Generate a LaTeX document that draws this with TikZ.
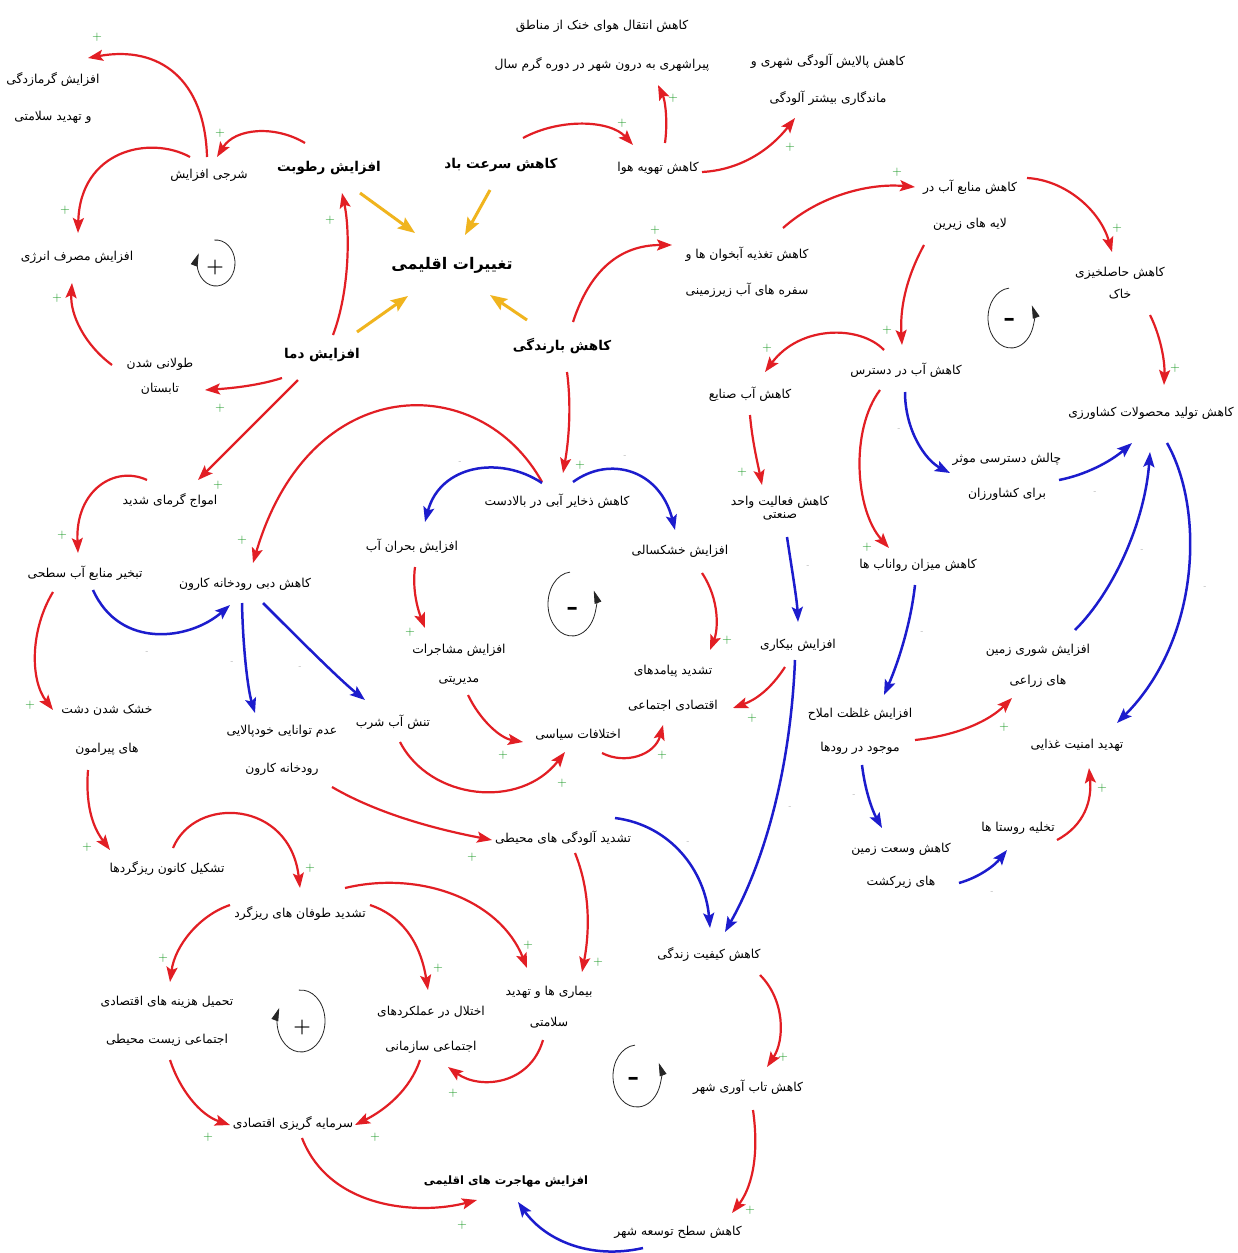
\documentclass[tikz,border=0pt]{standalone}
\usepackage{fontspec}
\newfontfamily\fa[Script=Arabic]{DejaVu Sans}
\usetikzlibrary{arrows.meta,calc}
\TeXXeTstate=1
\newcommand\rl[1]{\beginR #1\endR}
\definecolor{cred}{RGB}{226,30,36}
\definecolor{cblue}{RGB}{28,28,205}
\definecolor{cyel}{RGB}{240,180,30}
\definecolor{cgreen}{RGB}{20,150,30}
\newcommand\cnx[7]{\draw[#1] ($(#2)+(#3)$) .. controls (#4) and (#5) .. ($(#6)+(#7)$);}
\newcommand\lnk[5]{\draw[#1] ($(#2)+(#3)$) -- ($(#4)+(#5)$);}
\begin{document}
\begin{tikzpicture}[x=1pt,y=-1pt,
  t/.style={font=\fa\fontsize{12.3}{14}\selectfont,align=center,inner sep=0pt},
  tb/.style={font=\fa\bfseries\fontsize{13.5}{16}\selectfont,align=center,inner sep=0pt},
  tbs/.style={font=\fa\bfseries\fontsize{11.5}{14}\selectfont,align=center,inner sep=0pt},
  tt/.style={font=\fa\bfseries\fontsize{16}{20}\selectfont,inner sep=0pt},
  ra/.style={draw=cred,line width=2.2pt,-{Stealth[length=15pt,width=11pt,inset=3pt]}},
  ba/.style={draw=cblue,line width=2.5pt,-{Stealth[length=15pt,width=11pt,inset=3pt]}},
  ya/.style={draw=cyel,line width=3pt,-{Stealth[length=17pt,width=13pt,inset=3pt]}},
  pl/.style={text=cgreen,font=\fontsize{13}{13}\selectfont,inner sep=0pt},
  mn/.style={text=black!35,font=\fontsize{8}{8}\selectfont,inner sep=0pt},
  lp/.style={draw=black!85,line width=0.8pt,-{Triangle[length=13pt,width=7pt]}},
  ls/.style={font=\bfseries\fontsize{20}{20}\selectfont,inner sep=0pt},
  lm/.style={font=\bfseries\fontsize{30}{30}\selectfont,inner sep=0pt}]
\fill[white] (0,0) rectangle (1237,1253);
\useasboundingbox (0,0) rectangle (1237,1253);

% nodes
\node[t] (gar) at (53,98) {\rl{افزایش گرمازدگی}\\[23pt]\rl{و تهدید سلامتی}};
\node[t] (sharji) at (209,175) {\rl{شرجی افزایش}};
\node[tb] (rotubat) at (329,168) {\rl{افزایش رطوبت}};
\node[tb] (bad) at (501,165) {\rl{کاهش سرعت باد}};
\node[t] (tahvie) at (658,168) {\rl{کاهش تهویه هوا}};
\node[t] (enteghal) at (602,46) {\rl{کاهش انتقال هوای خنک از مناطق}\\[24pt]\rl{پیراشهری به درون شهر در دوره گرم سال}};
\node[t] (palayesh) at (828,80) {\rl{کاهش پالایش آلودگی شهری و}\\[21pt]\rl{ماندگاری بیشتر آلودگی}};
\node[tt] (taghirat) at (452,265) {\rl{تغییرات اقلیمی}};
\node[t] (energy) at (77,257) {\rl{افزایش مصرف انرژی}};
\node[t] (tabestan) at (160,376) {\rl{طولانی شدن}\\[11pt]\rl{تابستان}};
\node[tb] (dama) at (322,355) {\rl{افزایش دما}};
\node[tb] (barandegi) at (562,346) {\rl{کاهش بارندگی}};
\node[t] (taghzie) at (747,272) {\rl{کاهش تغذیه آبخوان ها و}\\[21pt]\rl{سفره های آب زیرزمینی}};
\node[t] (manabe) at (970,205) {\rl{کاهش منابع آب در}\\[22pt]\rl{لایه های زیرین}};
\node[t] (hasel) at (1120,283) {\rl{کاهش حاصلخیزی}\\[8pt]\rl{خاک}};
\node[t] (dastres) at (906,370) {\rl{کاهش آب در دسترس}};
\node[t] (sanaye) at (750,394) {\rl{کاهش آب صنایع}};
\node[t] (tolid) at (1151,413) {\rl{کاهش تولید محصولات کشاورزی}};
\node[t] (chalesh) at (1007,477) {\rl{چالش دسترسی موثر}\\[21pt]\rl{برای کشاورزان}};
\node[t] (faaliat) at (780,508) {\rl{کاهش فعالیت واحد}\\[-1pt]\rl{صنعتی}};
\node[t] (zakhayer) at (557,501) {\rl{کاهش ذخایر آبی در بالادست}};
\node[t] (amvaj) at (170,500) {\rl{امواج گرمای شدید}};
\node[t] (bohran) at (412,546) {\rl{افزایش بحران آب}};
\node[t] (khoshksali) at (680,551) {\rl{افزایش خشکسالی}};
\node[t] (ravanab) at (918,565) {\rl{کاهش میزان رواناب ها}};
\node[t] (tabkhir) at (85,573) {\rl{تبخیر منابع آب سطحی}};
\node[t] (dobi) at (245,584) {\rl{کاهش دبی رودخانه کارون}};
\node[t] (moshajerat) at (459,665) {\rl{افزایش مشاجرات}\\[15pt]\rl{مدیریتی}};
\node[t] (bikari) at (798,645) {\rl{افزایش بیکاری}};
\node[t] (shuri) at (1038,666) {\rl{افزایش شوری زمین}\\[17pt]\rl{های زراعی}};
\node[t] (payamad) at (673,688) {\rl{تشدید پیامدهای}\\[21pt]\rl{اقتصادی اجتماعی}};
\node[t] (dasht) at (107,730) {\rl{خشک شدن دشت}\\[25pt]\rl{های پیرامون}};
\node[t] (khodpalayi) at (282,750) {\rl{عدم توانایی خودپالایی}\\[24pt]\rl{رودخانه کارون}};
\node[t] (tanesh) at (393,722) {\rl{تنش آب شرب}};
\node[t] (ekhtelafat) at (578,735) {\rl{اختلافات سیاسی}};
\node[t] (gholzat) at (860,731) {\rl{افزایش غلظت املاح}\\[20pt]\rl{موجود در رودها}};
\node[t] (amniat) at (1077,745) {\rl{تهدید امنیت غذایی}};
\node[t] (aloodegi) at (563,838) {\rl{تشدید آلودگی های محیطی}};
\node[t] (takhliye) at (1018,828) {\rl{تخلیه روستا ها}};
\node[t] (vosat) at (901,866) {\rl{کاهش وسعت زمین}\\[19pt]\rl{های زیرکشت}};
\node[t] (kanoon) at (167,868) {\rl{تشکیل کانون ریزگردها}};
\node[t] (toofan) at (300,913) {\rl{تشدید طوفان های ریزگرد}};
\node[t] (keyfiat) at (709,954) {\rl{کاهش کیفیت زندگی}};
\node[t] (bimari) at (549,1007) {\rl{بیماری ها و تهدید}\\[17pt]\rl{سلامتی}};
\node[t] (hazine) at (167,1021) {\rl{تحمیل هزینه های اقتصادی}\\[24pt]\rl{اجتماعی زیست محیطی}};
\node[t] (ekhtelal) at (431,1030) {\rl{اختلال در عملکردهای}\\[21pt]\rl{اجتماعی سازمانی}};
\node[t] (tabavari) at (748,1087) {\rl{کاهش تاب آوری شهر}};
\node[t] (sarmaye) at (293,1123) {\rl{سرمایه گریزی اقتصادی}};
\node[tbs] (mohajerat) at (506,1182) {\rl{افزایش مهاجرت های اقلیمی}};
\node[t] (tose) at (678,1232) {\rl{کاهش سطح توسعه شهر}};

% yellow
\lnk{ya}{rotubat}{31,25}{taghirat}{-37,-32}
\lnk{ya}{bad}{-11,25}{taghirat}{13,-30}
\lnk{ya}{dama}{35,-23}{taghirat}{-44,31}
\lnk{ya}{barandegi}{-35,-26}{taghirat}{38,30}

% red
\cnx{ra}{sharji}{-2,-18}{205,80}{160,45}{gar}{35,-40}
\cnx{ra}{rotubat}{-24,-25}{275,125}{235,128}{sharji}{8,-18}
\cnx{ra}{sharji}{-19,-18}{150,135}{80,150}{energy}{1,-24}
\cnx{ra}{tabestan}{-48,-11}{85,345}{70,315}{energy}{-5,26}
\cnx{ra}{dama}{11,-20}{350,290}{350,230}{rotubat}{13,25}
\cnx{ra}{dama}{-40,23}{260,385}{235,388}{tabestan}{45,14}
\lnk{ra}{dama}{-24,25}{amvaj}{28,-20}
\cnx{ra}{bad}{22,-27}{560,118}{610,120}{tahvie}{-25,-23}
\cnx{ra}{tahvie}{7,-25}{668,120}{665,100}{enteghal}{56,39}
\cnx{ra}{tahvie}{44,4}{740,170}{770,150}{palayesh}{-33,38}
\cnx{ra}{barandegi}{11,-24}{590,270}{620,245}{taghzie}{-75,-27}
\cnx{ra}{taghzie}{36,-44}{820,195}{870,183}{manabe}{-55,-18}
\cnx{ra}{manabe}{57,-27}{1065,180}{1100,210}{hasel}{-8,-31}
\cnx{ra}{manabe}{-46,40}{905,280}{900,310}{dastres}{-4,-25}
\cnx{ra}{hasel}{30,32}{1160,335}{1165,360}{tolid}{13,-28}
\cnx{ra}{dastres}{-22,-20}{860,325}{800,325}{sanaye}{15,-22}
\cnx{ra}{dastres}{-26,20}{850,430}{855,510}{ravanab}{-29,-17}
\cnx{ra}{sanaye}{0,21}{752,440}{758,465}{faaliat}{-18,-23}
\cnx{ra}{barandegi}{5,26}{572,410}{568,445}{zakhayer}{6,-28}
\cnx{ra}{zakhayer}{-15,-19}{480,370}{310,370}{dobi}{8,-21}
\cnx{ra}{amvaj}{-23,-20}{115,465}{75,490}{tabkhir}{-7,-20}
\cnx{ra}{tabkhir}{-32,19}{30,630}{30,680}{dasht}{-54,-20}
\cnx{ra}{dasht}{-19,40}{85,810}{95,830}{kanoon}{-57,-18}
\cnx{ra}{kanoon}{6,-20}{195,795}{290,800}{toofan}{0,-25}
\cnx{ra}{toofan}{45,-25}{420,870}{500,900}{bimari}{-22,-39}
\cnx{ra}{toofan}{70,-8}{400,915}{420,940}{ekhtelal}{-3,-40}
\cnx{ra}{toofan}{-70,-8}{200,915}{175,945}{hazine}{3,-39}
\cnx{ra}{aloodegi}{12,15}{590,890}{590,930}{bimari}{33,-35}
\cnx{ra}{bimari}{-6,33}{530,1085}{480,1090}{ekhtelal}{17,37}
\cnx{ra}{hazine}{3,39}{180,1090}{200,1115}{sarmaye}{-63,2}
\cnx{ra}{ekhtelal}{-11,30}{410,1090}{385,1110}{sarmaye}{62,2}
\cnx{ra}{sarmaye}{9,15}{330,1210}{420,1215}{mohajerat}{-29,18}
\cnx{ra}{keyfiat}{51,21}{785,1000}{785,1040}{tabavari}{19,-20}
\cnx{ra}{tabavari}{5,23}{760,1160}{750,1190}{tose}{54,-19}
\cnx{ra}{bohran}{3,21}{412,590}{418,610}{moshajerat}{-34,-37}
\cnx{ra}{moshajerat}{9,30}{480,720}{500,738}{ekhtelafat}{-55,7}
\cnx{ra}{tanesh}{7,20}{430,800}{520,810}{ekhtelafat}{-13,17}
\cnx{ra}{ekhtelafat}{24,18}{625,765}{655,755}{payamad}{-10,37}
\cnx{ra}{khoshksali}{22,22}{720,600}{718,630}{payamad}{37,-38}
\cnx{ra}{bikari}{-13,22}{770,690}{755,700}{payamad}{60,20}
\cnx{ra}{khodpalayi}{50,37}{380,815}{440,830}{aloodegi}{-71,2}
\cnx{ra}{gholzat}{55,9}{960,735}{990,720}{shuri}{-26,32}
\cnx{ra}{takhliye}{39,12}{1085,825}{1092,800}{amniat}{12,23}

% blue
\cnx{ba}{zakhayer}{-15,-18}{500,455}{440,465}{bohran}{13,-24}
\cnx{ba}{zakhayer}{16,-19}{610,455}{660,470}{khoshksali}{-5,-21}
\cnx{ba}{dastres}{-1,22}{905,430}{925,460}{chalesh}{-57,-4}
\cnx{ba}{chalesh}{52,3}{1085,475}{1110,462}{tolid}{-19,30}
\cnx{ba}{shuri}{37,-36}{1115,590}{1145,520}{tolid}{-1,39}
\cnx{ba}{tolid}{16,30}{1205,510}{1200,640}{amniat}{40,-22}
\cnx{ba}{ravanab}{-3,20}{910,630}{895,670}{gholzat}{24,-36}
\cnx{ba}{gholzat}{2,34}{865,790}{872,810}{vosat}{-19,-38}
\cnx{ba}{vosat}{58,17}{980,877}{995,865}{takhliye}{-11,22}
\cnx{ba}{tabkhir}{8,17}{120,650}{190,640}{dobi}{-15,21}
\cnx{ba}{dobi}{-3,19}{243,650}{248,690}{khodpalayi}{-27,-37}
\cnx{ba}{dobi}{18,19}{300,640}{340,680}{tanesh}{-28,-22}
\cnx{ba}{faaliat}{7,29}{792,570}{797,600}{bikari}{0,-23}
\cnx{ba}{bikari}{-3,15}{790,780}{760,870}{keyfiat}{16,-22}
\cnx{ba}{aloodegi}{52,-20}{670,825}{705,870}{keyfiat}{1,-26}
\cnx{ba}{tose}{-35,16}{590,1260}{545,1240}{mohajerat}{12,20}

% plus signs
\foreach \n/\p in {1/{97,37},2/{220,133},3/{65,210},4/{57,298},5/{330,220},6/{220,408},7/{218,485},8/{622,123},9/{673,98},10/{790,147},11/{655,230},12/{897,172},13/{1117,228},14/{887,330},15/{1175,368},16/{767,348},17/{867,547},18/{742,472},19/{580,465},20/{242,540},21/{62,535},22/{30,705},23/{87,847},24/{310,868},25/{528,945},26/{438,968},27/{163,958},28/{598,962},29/{453,1093},30/{208,1137},31/{375,1137},32/{462,1225},33/{783,1057},34/{750,1210},35/{410,632},36/{503,755},37/{562,783},38/{662,755},39/{727,640},40/{752,718},41/{472,857},42/{1004,727},43/{1102,788}}
  \node[pl] (p\n) at (\p) {+};
% minus signs
\foreach \n/\p in {1/{460,463},2/{625,457},3/{899,430},4/{1095,493},5/{1142,550},6/{1205,587},7/{922,632},8/{854,795},9/{992,892},10/{147,652},11/{232,662},12/{300,667},13/{808,567},14/{790,807},15/{688,842}}
  \node[mn] (m\n) at (\p) {-};

% loop markers
\coordinate (c1) at (216,263);
\node[ls] (s1) at (215,268) {+};
\draw[lp] (c1) ++(-95:19 and 23) arc[start angle=-95,end angle=205,x radius=19,y radius=23];
\coordinate (c2) at (1011,318);
\node[lm] (s2) at (1010,322) {-};
\draw[lp] (c2) ++(265:23 and 30) arc[start angle=265,end angle=-25,x radius=23,y radius=30];
\coordinate (c3) at (572,604);
\node[lm] (s3) at (573,611) {-};
\draw[lp] (c3) ++(265:24 and 32) arc[start angle=265,end angle=-25,x radius=24,y radius=32];
\coordinate (c4) at (301,1021);
\node[ls] (s4) at (302,1027) {+};
\draw[lp] (c4) ++(-95:24 and 31) arc[start angle=-95,end angle=205,x radius=24,y radius=31];
\coordinate (c5) at (637,1076);
\node[lm] (s5) at (634,1081) {-};
\draw[lp] (c5) ++(265:24 and 31) arc[start angle=265,end angle=-25,x radius=24,y radius=31];
\end{tikzpicture}
\end{document}
